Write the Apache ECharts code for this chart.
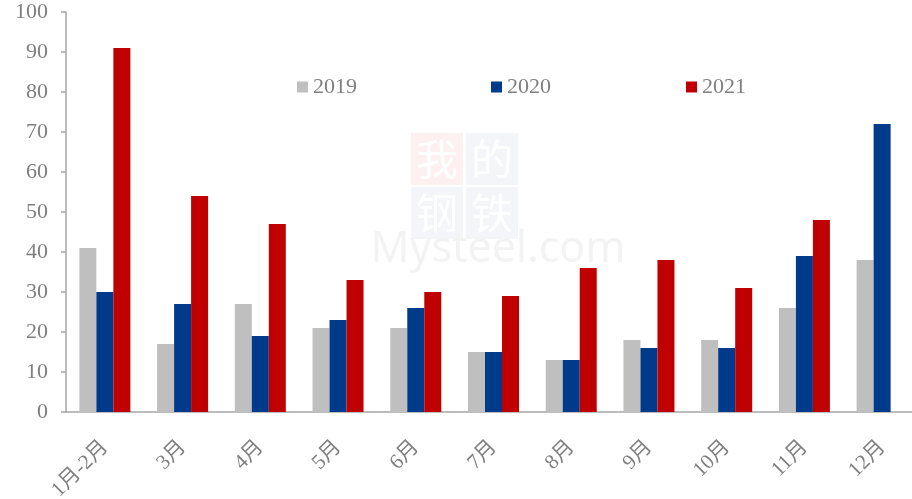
<!DOCTYPE html>
<html>
<head>
<meta charset="utf-8">
<script src="https://cdn.jsdelivr.net/npm/echarts@6/dist/echarts.min.js"></script>
<style>
  html, body { margin: 0; padding: 0; background: #fff; }
  #chart { width: 912px; height: 499px; }
</style>
</head>
<body>
<div id="chart"></div>
<script>
// 月份
const months = ['1月-2月', '3月', '4月', '5月', '6月', '7月', '8月', '9月', '10月', '11月', '12月'];
// 各年数据
const y2019 = [41, 17, 27, 21, 21, 15, 13, 18, 18, 26, 38];
const y2020 = [30, 27, 19, 23, 26, 15, 13, 16, 16, 39, 72];
const y2021 = [91, 54, 47, 33, 30, 29, 36, 38, 31, 48, null];

const serif = '"Liberation Serif", "Noto Sans CJK SC", serif';
const grayText = '#7f7f7f';
const axisColor = '#a6a6a6';

const chart = echarts.init(document.getElementById('chart'));

// 水印
const wm = [];
const boxes = [
  { x: 411, y: 133, c: '#fcf0f0', t: '我' },
  { x: 466, y: 133, c: '#f4f5f9', t: '的' },
  { x: 411, y: 187, c: '#f4f5f9', t: '钢' },
  { x: 466, y: 187, c: '#f4f5f9', t: '铁' }
];
boxes.forEach(b => {
  wm.push({ type: 'rect', shape: { x: b.x, y: b.y, width: 52, height: 52 }, style: { fill: b.c }, z: -1 });
  wm.push({
    type: 'text', x: b.x + 26, y: b.y + 26, z: -1,
    style: { text: b.t, fill: '#ffffff', font: '42px "Noto Sans CJK SC"', align: 'center', verticalAlign: 'middle' }
  });
});
wm.push({
  type: 'text', x: 498, y: 250, z: -1,
  style: { text: 'Mysteel.com', fill: '#f3f3f3', font: '43px "Noto Sans"', align: 'center', verticalAlign: 'middle' }
});

const legendBase = {
  top: 71, itemWidth: 11, itemHeight: 11, itemGap: 5, icon: 'rect',
  textStyle: { fontFamily: serif, fontSize: 22, color: grayText }
};

chart.setOption({
  animation: false,
  backgroundColor: '#fff',
  graphic: wm,
  legend: [
    Object.assign({ left: 292, data: ['2019'] }, legendBase),
    Object.assign({ left: 486, data: ['2020'] }, legendBase),
    Object.assign({ left: 681, data: ['2021'] }, legendBase)
  ],
  grid: { left: 66, width: 855, top: 12, height: 400, outerBoundsMode: 'none' },
  xAxis: {
    type: 'category',
    data: months,
    axisLine: { lineStyle: { color: axisColor, width: 1.5 } },
    axisTick: { length: 5, lineStyle: { color: axisColor, width: 1.5 } },
    axisLabel: { rotate: 45, fontFamily: serif, fontSize: 21, color: grayText, margin: 32 }
  },
  yAxis: {
    type: 'value',
    min: 0, max: 100, interval: 10,
    splitLine: { show: false },
    axisLine: { show: true, lineStyle: { color: axisColor, width: 1.5 } },
    axisTick: { show: true, length: 5, lineStyle: { color: axisColor, width: 1.5 } },
    axisLabel: { fontFamily: serif, fontSize: 22, color: grayText, margin: 18 }
  },
  series: [
    { name: '2019', type: 'bar', data: y2019, itemStyle: { color: '#bfbfbf' }, barWidth: 17, barGap: '0%' },
    { name: '2020', type: 'bar', data: y2020, itemStyle: { color: '#003a8a' }, barWidth: 17, barGap: '0%' },
    { name: '2021', type: 'bar', data: y2021, itemStyle: { color: '#c00000' }, barWidth: 17, barGap: '0%' }
  ]
});
</script>
</body>
</html>
